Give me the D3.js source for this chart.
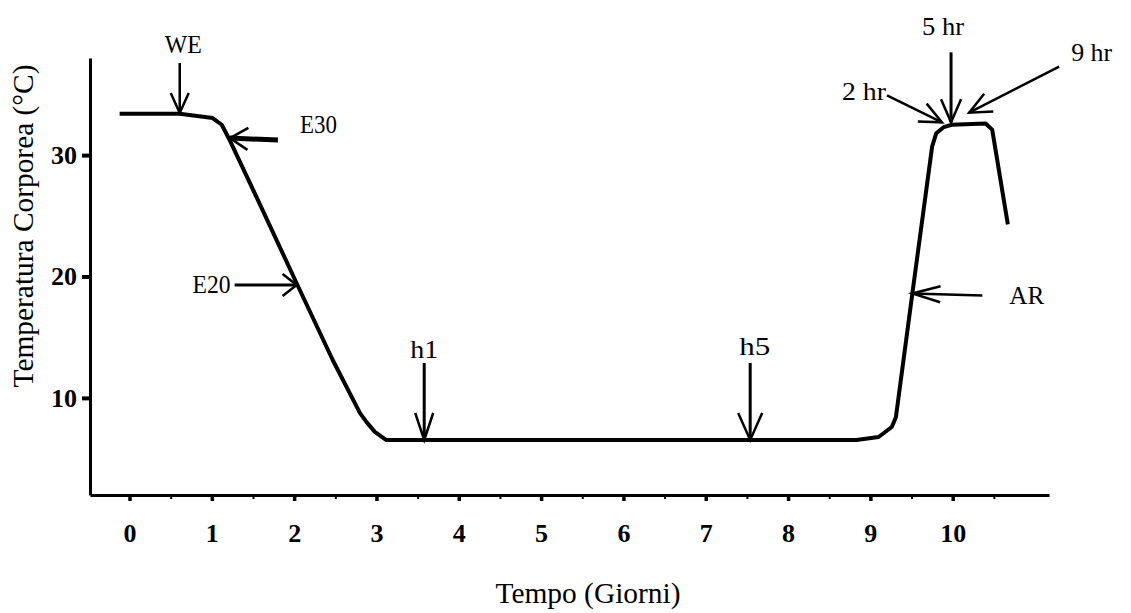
<!DOCTYPE html>
<html>
<head>
<meta charset="UTF-8"/>
<style>
  body { margin: 0; background: #fff; }
  svg text { font-family: "Liberation Serif", "Times New Roman", serif; fill: #000; }
</style>
</head>
<body>
<svg width="1131" height="613"></svg>
<script src="https://d3js.org/d3.v7.min.js"></script>
<script>
// body temperature (°C) over time (days)
let days  = [-0.12, 0.61, 1.01, 1.12, 1.22, 1.56, 2.04, 2.47, 2.80, 2.88, 2.98, 3.12,
             8.83, 9.10, 9.26, 9.31, 9.51, 9.75, 9.80, 9.89, 9.99, 10.40, 10.48, 10.67];
let temps = [33.4, 33.4, 33.05, 32.5, 31.2, 26.3, 19.3, 13.1, 8.75, 8.0, 7.2, 6.53,
             6.53, 6.78, 7.6, 8.4, 18.6, 30.7, 31.8, 32.3, 32.5, 32.6, 32.1, 24.3];

let xTicks = [0, 1, 2, 3, 4, 5, 6, 7, 8, 9, 10];
let xMinor = [0.5, 1.5, 2.5, 3.5, 4.5, 5.5, 6.5, 7.5, 8.5, 9.5, 10.5];
let yTicks = [10, 20, 30];

// annotated points on the curve
let marks     = ["WE", "E30", "E20", "h1", "h5", "2 hr", "5 hr", "9 hr", "AR"];
let markDays  = [0.61, 1.22, 2.03, 3.58, 7.54, 9.87, 9.98, 10.20, 9.51];
let markTemps = [33.47, 31.4, 19.3, 6.53, 6.53, 32.7, 32.7, 33.5, 18.6];

// arrow/label layout in pixels, relative to the arrow tip
let layout = {
    "WE":   {tail: [0, -50],   text: [-15, -60],  len: 37, L: 20, W: 9,  sw: 2.5},
    "E30":  {tail: [48, 2],    text: [70, -5],    len: 37, L: 18, W: 11, sw: 5},
    "E20":  {tail: [-62, 0],   text: [-104, 8],   len: 38, L: 14, W: 11, sw: 3},
    "h1":   {tail: [0, -77],   text: [-14, -82],  len: 28, L: 27, W: 9,  sw: 3},
    "h5":   {tail: [0, -77],   text: [-11, -85],  len: 31, L: 27, W: 12, sw: 3},
    "2 hr": {tail: [-55, -27], text: [-100, -22], len: 44, L: 22, W: 10, sw: 2.5},
    "5 hr": {tail: [0, -70],   text: [-29, -87],  len: 42, L: 23, W: 10, sw: 3},
    "9 hr": {tail: [90, -46],  text: [102, -52],  len: 41, L: 22, W: 10, sw: 2.5},
    "AR":   {tail: [70, 2],    text: [97, 11],    len: 35, L: 28, W: 8,  sw: 2.5}
};

let svg = d3.select("svg");

let x = d3.scaleLinear().domain([-0.48, 11.17]).range([90, 1049]);
let y = d3.scaleLinear().domain([2, 38]).range([495, 58]);

// x axis: minor half-day ticks, then labelled day ticks
let gxMinor = svg.append("g")
    .attr("transform", "translate(0," + y(2) + ")")
    .call(d3.axisBottom(x).tickValues(xMinor).tickSize(4).tickSizeOuter(0).tickFormat(""));
gxMinor.select(".domain").remove();
gxMinor.selectAll("line").attr("stroke-width", 2);

let gx = svg.append("g")
    .attr("transform", "translate(0," + y(2) + ")")
    .call(d3.axisBottom(x).tickValues(xTicks).tickSize(6).tickSizeOuter(0).tickPadding(23));
gx.select(".domain").attr("stroke-width", 3);
gx.selectAll("line").attr("stroke-width", 3.5);
gx.selectAll("text")
    .style("font-size", "26px")
    .style("font-weight", "bold");

let gy = svg.append("g")
    .attr("transform", "translate(" + x(-0.48) + ",0)")
    .call(d3.axisLeft(y).tickValues(yTicks).tickSize(8).tickSizeOuter(0).tickPadding(5));
gy.select(".domain").attr("stroke-width", 3);
gy.selectAll("line").attr("stroke-width", 4);
gy.selectAll("text")
    .style("font-size", "26px")
    .style("font-weight", "bold");

// axis titles
svg.append("text")
    .attr("transform", "translate(33,226) rotate(-90)")
    .attr("text-anchor", "middle")
    .attr("font-size", 29)
    .attr("textLength", 323)
    .attr("lengthAdjust", "spacingAndGlyphs")
    .text("Temperatura Corporea (°C)");

svg.append("text")
    .attr("x", 588)
    .attr("y", 603)
    .attr("text-anchor", "middle")
    .attr("font-size", 29)
    .attr("textLength", 185)
    .attr("lengthAdjust", "spacingAndGlyphs")
    .text("Tempo (Giorni)");

// the temperature curve
let points = days.map((d, i) => [d, temps[i]]);
let line = d3.line().x(d => x(d[0])).y(d => y(d[1]));
svg.append("path")
    .datum(points)
    .attr("d", line)
    .attr("fill", "none")
    .attr("stroke", "#000")
    .attr("stroke-width", 4)
    .attr("stroke-linejoin", "round");

// arrows with open V heads
function headPoints(t, s, L, W) {
    let dx = s[0] - t[0], dy = s[1] - t[1];
    let n = Math.hypot(dx, dy);
    let ux = dx / n, uy = dy / n;
    return [[t[0] + ux * L - uy * W, t[1] + uy * L + ux * W], t,
            [t[0] + ux * L + uy * W, t[1] + uy * L - ux * W]];
}

let plain = d3.line();
marks.forEach((m, i) => {
    let lay = layout[m];
    let tip = [x(markDays[i]), y(markTemps[i])];
    let tail = [tip[0] + lay.tail[0], tip[1] + lay.tail[1]];
    svg.append("path")
        .attr("d", plain([tail, tip]))
        .attr("stroke", "#000")
        .attr("stroke-width", lay.sw)
        .attr("fill", "none");
    svg.append("path")
        .attr("d", plain(headPoints(tip, tail, lay.L, lay.W)))
        .attr("stroke", "#000")
        .attr("stroke-width", 2.5)
        .attr("fill", "none");
    svg.append("text")
        .attr("x", tip[0] + lay.text[0])
        .attr("y", tip[1] + lay.text[1])
        .attr("font-size", 26)
        .attr("textLength", lay.len)
        .attr("lengthAdjust", "spacingAndGlyphs")
        .text(m);
});
</script>
</body>
</html>
